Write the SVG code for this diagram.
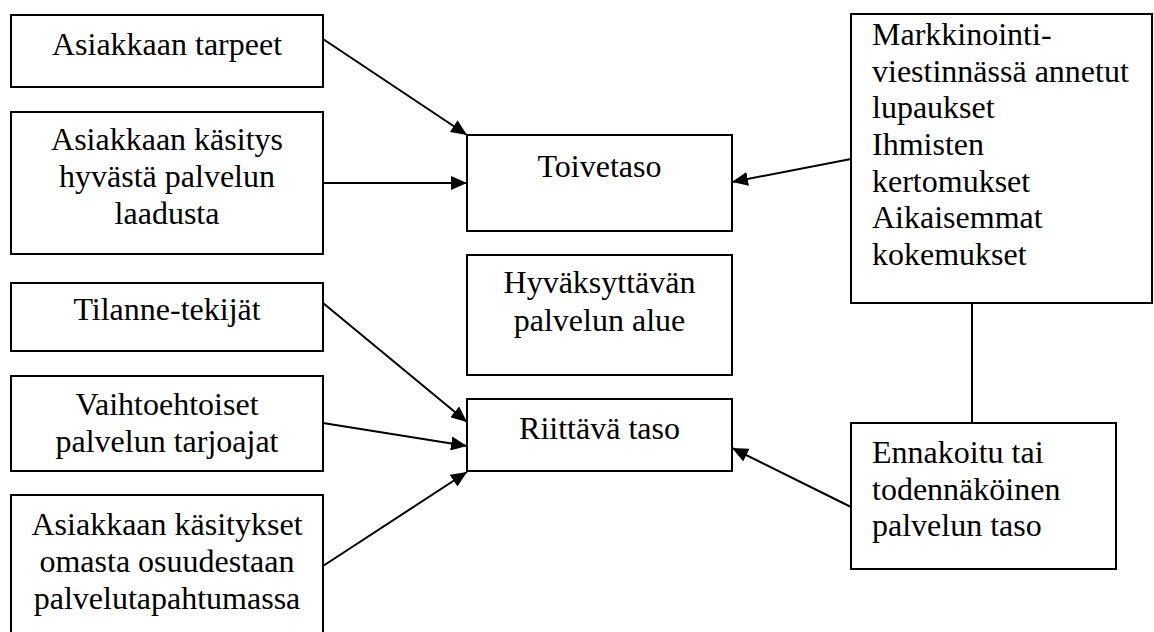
<svg xmlns="http://www.w3.org/2000/svg" width="1154" height="632" viewBox="0 0 1154 632">
<defs>
<style>
.box{fill:#fff;stroke:#000;stroke-width:2}
.t{font-family:"Liberation Serif","Times New Roman",serif;font-size:32px;fill:#000}
.c{text-anchor:middle}
.ln{stroke:#000;stroke-width:2;fill:none}
</style>
<marker id="ah" viewBox="0 0 16 14" refX="16" refY="7" markerWidth="16" markerHeight="14" markerUnits="userSpaceOnUse" orient="auto">
<path d="M0,0 L16,7 L0,14 Z" fill="#000"/>
</marker>
</defs>
<rect width="1154" height="632" fill="#fff"/>
<g id="n1"><rect class="box" x="11" y="15" width="312" height="72"/><text class="t c" x="167" y="55">Asiakkaan tarpeet</text></g>
<g id="n2"><rect class="box" x="11" y="112" width="312" height="142"/><text class="t c" x="167" y="150">Asiakkaan käsitys</text><text class="t c" x="167" y="187">hyvästä palvelun</text><text class="t c" x="167" y="224">laadusta</text></g>
<g id="n3"><rect class="box" x="11" y="283" width="312" height="68"/><text class="t c" x="167" y="320">Tilanne-tekijät</text></g>
<g id="n4"><rect class="box" x="11" y="376" width="312" height="95"/><text class="t c" x="167" y="415">Vaihtoehtoiset</text><text class="t c" x="167" y="452">palvelun tarjoajat</text></g>
<g id="n5"><rect class="box" x="11" y="495" width="312" height="145"/><text class="t c" x="167" y="535">Asiakkaan käsitykset</text><text class="t c" x="167" y="572">omasta osuudestaan</text><text class="t c" x="167" y="609">palvelutapahtumassa</text></g>
<g id="n6"><rect class="box" x="467" y="135" width="265" height="96"/><text class="t c" x="599.5" y="177">Toivetaso</text></g>
<g id="n7"><rect class="box" x="467" y="255" width="265" height="120"/><text class="t c" x="599.5" y="293">Hyväksyttävän</text><text class="t c" x="599.5" y="331">palvelun alue</text></g>
<g id="n8"><rect class="box" x="467" y="399" width="265" height="72"/><text class="t c" x="599.5" y="439">Riittävä taso</text></g>
<g id="n9"><rect class="box" x="851" y="14" width="301" height="289"/>
<text class="t" x="872" y="45">Markkinointi-</text><text class="t" x="872" y="82">viestinnässä annetut</text><text class="t" x="872" y="118">lupaukset</text><text class="t" x="872" y="155">Ihmisten</text><text class="t" x="872" y="192">kertomukset</text><text class="t" x="872" y="228">Aikaisemmat</text><text class="t" x="872" y="265">kokemukset</text></g>
<g id="n10"><rect class="box" x="851" y="423" width="265" height="146"/><text class="t" x="872" y="463">Ennakoitu tai</text><text class="t" x="872" y="500">todennäköinen</text><text class="t" x="872" y="536">palvelun taso</text></g>
<g id="connectors">
<line class="ln" x1="323" y1="39" x2="467" y2="135" marker-end="url(#ah)"/>
<line class="ln" x1="323" y1="183" x2="467" y2="183" marker-end="url(#ah)"/>
<line class="ln" x1="323" y1="303" x2="467" y2="422" marker-end="url(#ah)"/>
<line class="ln" x1="323" y1="423" x2="467" y2="446" marker-end="url(#ah)"/>
<line class="ln" x1="323" y1="566" x2="467" y2="472" marker-end="url(#ah)"/>
<line class="ln" x1="851" y1="159" x2="732" y2="182" marker-end="url(#ah)"/>
<line class="ln" x1="851" y1="507" x2="732" y2="448" marker-end="url(#ah)"/>
<line class="ln" x1="972" y1="303" x2="972" y2="423"/>
</g>
</svg>
